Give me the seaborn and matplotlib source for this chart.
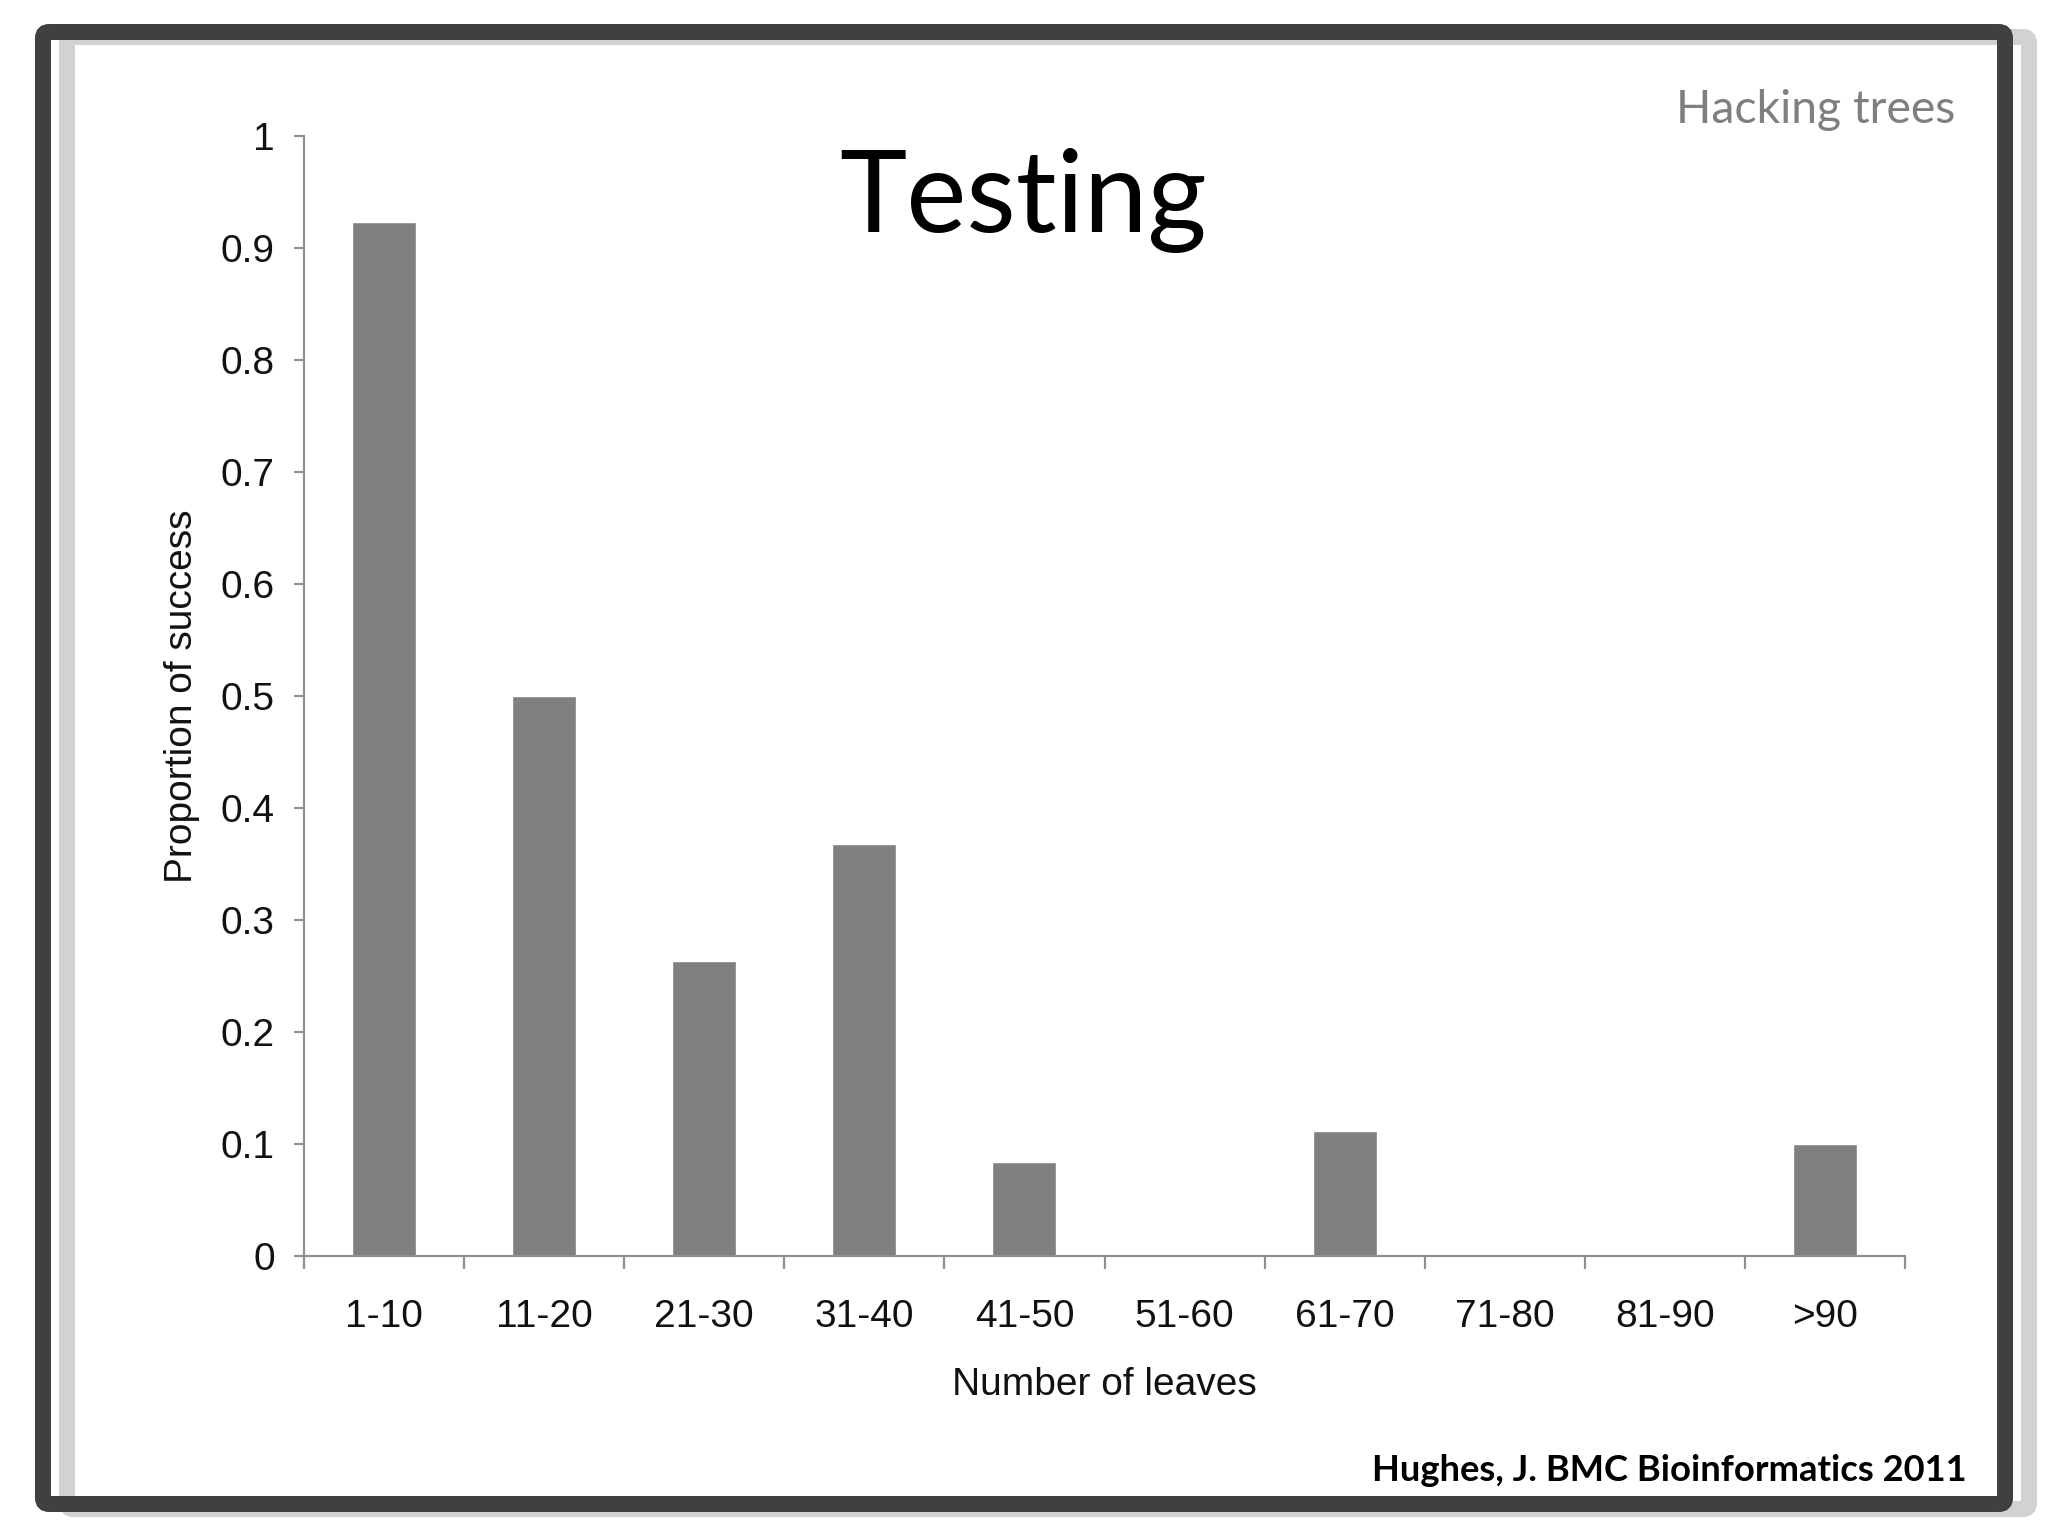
import numpy as np
import pandas as pd
import matplotlib
matplotlib.use("Agg")
import matplotlib.pyplot as plt
from matplotlib.patches import FancyBboxPatch
from matplotlib.transforms import IdentityTransform
import seaborn as sns

# ---- data ----
categories = ["1-10", "11-20", "21-30", "31-40", "41-50", "51-60",
              "61-70", "71-80", "81-90", ">90"]
proportions = [0.923, 0.500, 0.263, 0.368, 0.084, 0.0, 0.112, 0.0, 0.0, 0.100]
y_ticks = [0, 0.1, 0.2, 0.3, 0.4, 0.5, 0.6, 0.7, 0.8, 0.9, 1]
y_tick_labels = ["0", "0.1", "0.2", "0.3", "0.4", "0.5", "0.6", "0.7", "0.8", "0.9", "1"]

sns.set_theme(style="white")
plt.rcParams['font.family'] = ['Liberation Sans', 'DejaVu Sans']

W, H = 2048, 1536
fig = plt.figure(figsize=(W / 100, H / 100), dpi=100)
fig.patch.set_facecolor("white")

ax = fig.add_axes([304 / W, 1 - 1256 / H, (1905 - 304) / W, (1256 - 136) / H])

df = pd.DataFrame({"cat": categories, "val": proportions})
sns.barplot(data=df, x="cat", y="val", order=categories, color="#808080",
            saturation=1, width=0.40, ax=ax)

axis_col = "#8f8f8f"
ax.set_xlim(-0.5, len(categories) - 0.5)
ax.set_ylim(0, 1)
sns.despine(ax=ax, top=True, right=True)
for s in ["left", "bottom"]:
    ax.spines[s].set_color(axis_col)
    ax.spines[s].set_linewidth(1.6)

ax.set_yticks(y_ticks)
ax.set_yticklabels(y_tick_labels)
ax.set_xticks(range(len(categories)))
ax.set_xticklabels(categories)
ax.set_xticks(np.arange(-0.5, len(categories), 1.0), minor=True)

ax.tick_params(axis="y", which="major", direction="out", length=7, width=1.6,
               color=axis_col, labelsize=28, pad=14, labelcolor="#111111", left=True)
ax.tick_params(axis="x", which="major", length=0, labelsize=28, pad=31,
               labelcolor="#111111")
ax.tick_params(axis="x", which="minor", direction="out", length=9, width=1.6,
               color=axis_col, bottom=True)

ax.set_xlabel("Number of leaves", fontsize=28, color="#111111", labelpad=23)
ax.set_ylabel("Proportion of success", fontsize=28, color="#111111", labelpad=15)
ax.grid(False)

# ---- slide texts ----
fig.text(1023 / W, 1 - 232 / H, "Testing", fontsize=82, family=["Lato", "DejaVu Sans"],
         ha="center", va="baseline", color="black")
fig.text(1955 / W, 1 - 123 / H, "Hacking trees", fontsize=33.4, family=["Lato", "DejaVu Sans"],
         ha="right", va="baseline", color="#7f7f7f")
fig.text(1967 / W, 1 - 1481 / H, "Hughes, J. BMC Bioinformatics 2011", fontsize=26.2,
         family=["Lato", "DejaVu Sans"], fontweight="bold",
         ha="right", va="baseline", color="black")

# ---- slide frame with shadow (pixel coordinates) ----
x0, x1 = 43, 2005
ytop, ybot = 32, 1504
lw = 16 * 72 / 100
shadow = FancyBboxPatch((x0 + 24, H - ybot - 5), x1 - x0, ybot - ytop,
                        boxstyle="round,pad=0,rounding_size=6",
                        transform=IdentityTransform(), facecolor="none",
                        edgecolor="#d2d2d2", linewidth=lw, zorder=1)
frame = FancyBboxPatch((x0, H - ybot), x1 - x0, ybot - ytop,
                       boxstyle="round,pad=0,rounding_size=6",
                       transform=IdentityTransform(), facecolor="none",
                       edgecolor="#404040", linewidth=lw, zorder=2)
fig.patches.append(shadow)
fig.patches.append(frame)

fig.savefig("out.png", dpi=100)
